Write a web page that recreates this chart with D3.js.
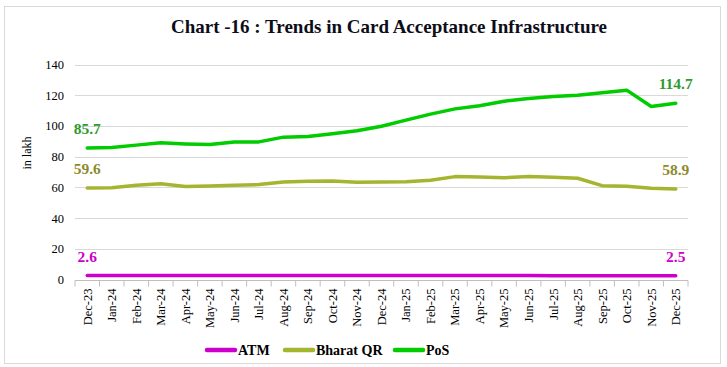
<!DOCTYPE html>
<html>
<head>
<meta charset="utf-8">
<script src="https://cdn.jsdelivr.net/npm/d3@7"></script>
<style>
  body { margin: 0; background: #fff; }
  svg { display: block; }
  text { font-family: "Liberation Serif", "DejaVu Serif", serif; }
</style>
</head>
<body>
<div id="chart"></div>
<script>
// months on the category axis
const months = ["Dec-23","Jan-24","Feb-24","Mar-24","Apr-24","May-24","Jun-24","Jul-24","Aug-24","Sep-24","Oct-24","Nov-24",
  "Dec-24","Jan-25","Feb-25","Mar-25","Apr-25","May-25","Jun-25","Jul-25","Aug-25","Sep-25","Oct-25","Nov-25","Dec-25"];

// values in lakh
const atm = [2.6,2.6,2.6,2.6,2.6,2.6,2.6,2.6,2.6,2.6,2.6,2.6,2.6,2.6,2.6,2.6,2.6,2.6,2.6,2.5,2.5,2.5,2.5,2.5,2.5];
const bharatQR = [59.6,59.8,61.3,62.4,60.5,60.9,61.3,61.8,63.5,63.9,64.2,63.3,63.5,63.7,64.6,67.0,66.8,66.3,67.0,66.6,65.9,61.1,60.7,59.4,58.9];
const pos = [85.7,86.0,87.5,89.0,88.3,87.9,89.6,89.6,92.7,93.1,94.9,96.8,99.8,103.8,107.7,111.1,113.1,116.1,117.9,119.2,120.0,121.6,123.3,112.7,114.7];

const yTicks = [0,20,40,60,80,100,120,140];

const series = [
  { name: "ATM", values: atm, color: "#cc00cc", labelColor: "#cc00cc" },
  { name: "Bharat QR", values: bharatQR, color: "#a5b52f", labelColor: "#8e8a2c" },
  { name: "PoS", values: pos, color: "#00cc00", labelColor: "#2f9a2f" }
];

const width = 727, height = 367;
const svg = d3.select("#chart").append("svg")
  .attr("width", width)
  .attr("height", height);

// outer frame
svg.append("rect")
  .attr("x", 4.5).attr("y", 6.5)
  .attr("width", 716).attr("height", 357)
  .attr("fill", "#fff")
  .attr("stroke", "#d9d9d9");

const x = d3.scaleBand().domain(months).range([75, 688]);
const y = d3.scaleLinear().domain([0, 140]).range([279.5, 64.5]);

// gridlines
svg.append("g")
  .selectAll("line")
  .data(yTicks.filter(d => d > 0))
  .enter().append("line")
  .attr("x1", 75).attr("x2", 688)
  .attr("y1", d => Math.round(y(d)) + 0.5)
  .attr("y2", d => Math.round(y(d)) + 0.5)
  .attr("stroke", "#d9d9d9");

// y axis labels
const yAxis = svg.append("g")
  .attr("transform", "translate(75,0)")
  .call(d3.axisLeft(y).tickValues(yTicks).tickSize(0).tickPadding(11));
yAxis.select(".domain").remove();
yAxis.selectAll("text")
  .attr("font-family", "Liberation Serif")
  .attr("font-size", 12.5)
  .attr("fill", "#000");

// x axis with ticks between categories
const xAxis = svg.append("g")
  .attr("transform", "translate(0," + (Math.round(y(0)) + 0.5) + ")")
  .call(d3.axisBottom(x).tickSize(0).tickPadding(0));
xAxis.select(".domain").attr("stroke", "#bfbfbf").attr("d", "M75,0H688");
xAxis.selectAll(".tick line").remove();
xAxis.selectAll(".tick text")
  .attr("font-family", "Liberation Serif")
  .attr("font-size", 12.5)
  .attr("fill", "#000")
  .attr("text-anchor", "end")
  .attr("dy", "0.35em")
  .attr("transform", "translate(0,8) rotate(-90)");
xAxis.append("g")
  .selectAll("line")
  .data(d3.range(months.length + 1))
  .enter().append("line")
  .attr("x1", i => 75 + i * x.step())
  .attr("x2", i => 75 + i * x.step())
  .attr("y1", 0).attr("y2", 6)
  .attr("stroke", "#bfbfbf");

// y axis title
svg.append("text")
  .attr("transform", "translate(31,153) rotate(-90)")
  .attr("text-anchor", "middle")
  .attr("font-size", 12)
  .attr("fill", "#000")
  .text("in lakh");

// chart title
svg.append("text")
  .attr("x", 389).attr("y", 33)
  .attr("text-anchor", "middle")
  .attr("font-size", 19)
  .attr("font-weight", "bold")
  .attr("fill", "#0d0d1a")
  .text("Chart -16 : Trends in Card Acceptance Infrastructure");

const line = d3.line()
  .x((d, i) => x(months[i]) + x.bandwidth() / 2)
  .y(d => y(d));

// lines
svg.append("g")
  .selectAll("path")
  .data(series)
  .enter().append("path")
  .attr("d", d => line(d.values))
  .attr("fill", "none")
  .attr("stroke", d => d.color)
  .attr("stroke-width", 3.5)
  .attr("stroke-linejoin", "round")
  .attr("stroke-linecap", "round");

// first and last value labels
series.forEach(s => {
  [0, s.values.length - 1].forEach(i => {
    svg.append("text")
      .attr("x", x(months[i]) + x.bandwidth() / 2)
      .attr("y", y(s.values[i]) - 14)
      .attr("text-anchor", "middle")
      .attr("font-size", 15.5)
      .attr("font-weight", "bold")
      .attr("fill", s.labelColor)
      .text(s.values[i].toFixed(1));
  });
});

// legend
const legendX = [206, 284, 394];
const legend = svg.append("g")
  .selectAll("g")
  .data(series)
  .enter().append("g")
  .attr("transform", (d, i) => "translate(" + legendX[i] + ",350)");
legend.append("line")
  .attr("x1", 1).attr("x2", 29)
  .attr("stroke", d => d.color)
  .attr("stroke-width", 4.5)
  .attr("stroke-linecap", "round");
legend.append("text")
  .attr("x", 32)
  .attr("dy", "0.35em")
  .attr("font-size", 14)
  .attr("font-weight", "bold")
  .attr("fill", "#000")
  .text(d => d.name);
</script>
</body>
</html>
